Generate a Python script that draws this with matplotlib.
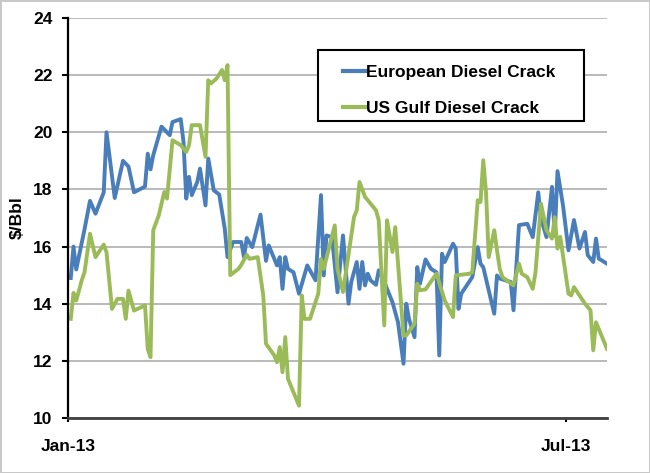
import matplotlib
matplotlib.use("Agg")
import matplotlib.pyplot as plt
import matplotlib.dates as mdates
from matplotlib.patches import Rectangle
import pandas as pd

# days since 1 Jan 2013
eu_days = [1, 2, 3, 6, 8, 10, 13, 14, 17, 20, 22, 24, 28, 29, 30, 31, 34, 37, 38, 41,
           42, 43, 44, 45, 47, 48, 50, 51, 53, 55, 57, 58, 60, 63, 64, 65, 67, 70, 72, 73,
           76, 77, 78, 79, 80, 82, 84, 87, 90, 92, 93, 94, 96, 98, 100, 102, 103, 105, 106, 107,
           108, 109, 110, 112, 113, 115, 118, 120, 122, 123, 124, 126, 127, 128, 130, 132, 134, 135, 136, 137,
           140, 141, 142, 143, 147, 149, 150, 151, 155, 156, 157, 161, 162, 164, 167, 169, 171, 172, 174, 176,
           177, 178, 180, 182, 184, 186, 188, 189, 191, 192, 193, 196]
eu_vals = [14.9, 16.0, 15.2, 16.6, 17.6, 17.15, 17.9, 20.0, 17.7, 19.0, 18.8, 17.9, 18.1, 19.25, 18.7, 19.2, 20.2, 19.9, 20.36, 20.46,
           19.66, 17.68, 18.44, 17.8, 18.26, 18.73, 17.44, 19.08, 17.97, 17.82, 16.63, 15.63, 16.16, 16.16, 15.63, 16.3, 15.98, 17.12, 15.5, 16.04,
           15.34, 15.63, 14.52, 15.63, 15.22, 15.1, 14.35, 15.34, 14.82, 17.8, 14.99, 16.39, 16.33, 14.4, 16.39, 14.0, 14.76, 15.46, 14.52, 15.46,
           14.64, 15.05, 14.82, 14.66, 15.17, 14.76, 14.05, 13.35, 11.9, 14.0, 13.47, 12.83, 15.28, 14.7, 15.55, 15.22, 15.1, 12.19, 15.75, 15.46,
           16.1, 15.93, 13.82, 14.35, 14.93, 15.98, 15.4, 15.28, 13.65, 14.99, 14.88, 14.76, 13.77, 16.75, 16.8, 16.33, 17.9, 16.98, 16.33, 18.09,
           16.39, 18.64, 17.44, 15.87, 16.93, 15.93, 16.51, 15.7, 15.46, 16.28, 15.58, 15.4]

us_days = [1, 2, 3, 5, 6, 8, 10, 13, 14, 16, 18, 20, 21, 22, 24, 28, 29, 30, 31, 33,
           35, 36, 38, 41, 43, 44, 45, 48, 50, 51, 52, 54, 56, 57, 58, 59, 62, 63, 65, 66,
           69, 71, 72, 75, 76, 77, 78, 79, 80, 84, 85, 86, 88, 91, 92, 93, 97, 98, 100, 104,
           105, 106, 108, 112, 113, 115, 116, 118, 119, 122, 123, 126, 127, 128, 130, 134, 137, 140, 141, 146,
           147, 149, 150, 151, 152, 153, 155, 156, 157, 158, 162, 164, 165, 167, 169, 170, 172, 174, 176, 177,
           178, 179, 182, 183, 184, 186, 188, 190, 191, 192, 196]
us_vals = [13.47, 14.38, 14.11, 14.82, 15.1, 16.45, 15.63, 16.07, 15.8, 13.82, 14.17, 14.17, 13.47, 14.46, 13.76, 13.94, 12.42, 12.13, 16.57, 17.09,
           17.91, 17.68, 19.72, 19.55, 19.31, 19.55, 20.25, 20.25, 19.14, 21.82, 21.71, 21.88, 22.18, 21.82, 22.35, 15.0, 15.22, 15.36, 15.71, 15.57,
           15.63, 14.29, 12.6, 12.19, 11.95, 12.48, 11.6, 12.83, 11.37, 10.43, 14.29, 13.47, 13.47, 14.35, 15.57, 15.22, 16.74, 15.22, 14.41, 17.03,
           17.27, 18.26, 17.74, 17.27, 16.92, 13.24, 16.92, 15.81, 16.68, 12.89, 12.89, 13.3, 14.7, 14.47, 14.5, 15.05, 14.11, 13.53, 14.99, 15.05,
           15.1, 17.62, 17.56, 19.02, 17.91, 15.63, 16.57, 15.87, 15.22, 14.93, 14.64, 15.4, 15.05, 14.93, 14.52, 15.1, 17.5, 16.57, 16.28, 17.03,
           15.93, 16.34, 14.35, 14.29, 14.58, 14.29, 14.0, 13.77, 12.37, 13.35, 12.42]

series_names = ["European Diesel Crack", "US Gulf Diesel Crack"]
y_ticks = [10, 12, 14, 16, 18, 20, 22, 24]

start = pd.Timestamp("2013-01-01")
eu_dates = start + pd.to_timedelta(eu_days, unit="D")
us_dates = start + pd.to_timedelta(us_days, unit="D")

plt.rcParams["font.family"] = ["Liberation Sans", "DejaVu Sans"]
plt.rcParams["font.weight"] = "bold"
fs = 12.5

fig = plt.figure(figsize=(6.5, 4.73), dpi=100)
fig.patch.set_edgecolor("#c8c8c8")
fig.patch.set_linewidth(2)
ax = fig.add_axes([68/650, 1 - 418/473, 539/650, 400/473])

ax.plot(eu_dates, eu_vals, color="#4a7ebb", lw=2.8, label=series_names[0], solid_joinstyle="round")
ax.plot(us_dates, us_vals, color="#9bbb59", lw=2.8, label=series_names[1], solid_joinstyle="round")

ax.set_ylim(10, 24)
ax.set_yticks(y_ticks)
ax.set_xlim(start, start + pd.Timedelta(days=196))
ax.set_xticks([start, pd.Timestamp("2013-07-01")])
ax.xaxis.set_major_formatter(mdates.DateFormatter("%b-%y"))

ax.grid(axis="y", color="#b4b4b4", lw=1.3)
ax.set_axisbelow(True)
for s in ["top", "right"]:
    ax.spines[s].set_visible(False)
ax.spines["left"].set_linewidth(1.6)
ax.spines["left"].set_color("black")
ax.spines["bottom"].set_linewidth(2)
ax.spines["bottom"].set_color("#404040")

ax.tick_params(axis="y", length=4, width=1.5, pad=7, labelsize=fs)
ax.tick_params(axis="x", length=3, width=1.5, pad=12, labelsize=fs)

ax.set_ylabel("$/Bbl", fontsize=fs, fontweight="bold")
ax.yaxis.set_label_coords(-0.08, 0.5)

# legend box drawn separately (Excel-style wider side padding)
fig.patches.append(Rectangle((318/650, 1 - 121/473), 266/650, 71/473, transform=fig.transFigure,
                             fill=True, facecolor="white", edgecolor="black", lw=1.5, zorder=5))
leg = fig.legend(loc="upper left", bbox_to_anchor=(343/650, 1 - 65/473), fontsize=fs,
                 frameon=False, handlelength=1.3, handletextpad=0.05,
                 labelspacing=1.2, borderpad=0, borderaxespad=0)
leg.set_zorder(6)
for line in leg.get_lines():
    line.set_linewidth(3)

fig.savefig("out.png", dpi=100)
